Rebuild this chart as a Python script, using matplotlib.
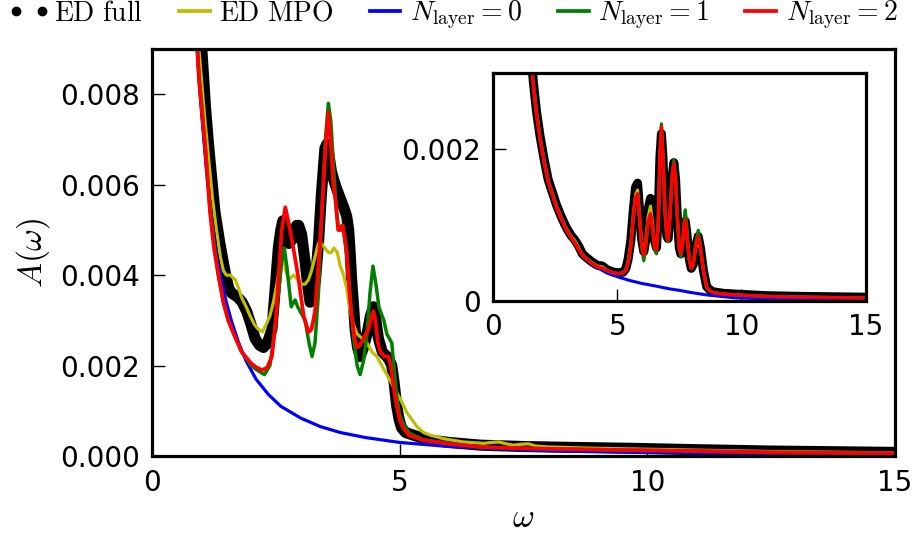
import matplotlib
matplotlib.use("Agg")
import matplotlib.pyplot as plt
from matplotlib.lines import Line2D
from matplotlib.legend_handler import HandlerLine2D
from matplotlib.ticker import FormatStrFormatter

plt.rcParams['mathtext.fontset'] = 'cm'

# ---- main panel: spectral function A(omega) ----
w_full = [1.0, 1.04, 1.08, 1.14, 1.2, 1.27, 1.37, 1.47, 1.55, 1.61, 1.68, 1.74, 1.82, 1.91, 2.0,
          2.08, 2.17, 2.25, 2.33, 2.42, 2.48, 2.55, 2.6, 2.64, 2.69, 2.76, 2.84, 2.92, 2.96, 3.02,
          3.09, 3.15, 3.19, 3.25, 3.3, 3.36, 3.42, 3.49, 3.53, 3.58, 3.62, 3.67, 3.73, 3.8, 3.87,
          3.93, 3.97, 4.0, 4.03, 4.07, 4.1, 4.15, 4.2, 4.27, 4.34, 4.41, 4.47, 4.52, 4.57, 4.65,
          4.74, 4.8, 4.84, 4.89, 4.94, 4.99, 5.04, 5.12, 5.28, 5.45, 5.62, 6.0, 6.63, 7.5, 8.5,
          9.7, 11, 12.5, 15]
A_full = [0.0091, 0.0084, 0.0077, 0.0069, 0.0062, 0.0054, 0.0047, 0.0041, 0.0037, 0.0036, 0.00355,
          0.0035, 0.0034, 0.0032, 0.0029, 0.0026, 0.00245, 0.0024, 0.0025, 0.0028, 0.0036, 0.0046,
          0.0050, 0.0052, 0.0051, 0.0047, 0.0048, 0.0051, 0.0051, 0.0049, 0.0043, 0.0037, 0.0034,
          0.0035, 0.0039, 0.0047, 0.0058, 0.0068, 0.0069, 0.0066, 0.0063, 0.0061, 0.0059, 0.0057,
          0.0055, 0.0053, 0.0050, 0.0045, 0.0039, 0.0033, 0.0028, 0.0024, 0.0022, 0.0024, 0.0027,
          0.0031, 0.0033, 0.0030, 0.0026, 0.0023, 0.0022, 0.0021, 0.0020, 0.0016, 0.0011, 0.0008,
          0.00062, 0.00052, 0.00046, 0.0004, 0.00035, 0.0003, 0.00024, 0.00021, 0.00019, 0.00017,
          0.00014, 0.00011, 0.00008]

w_mpo = [0.93, 1.0, 1.07, 1.14, 1.22, 1.3, 1.38, 1.44, 1.5, 1.58, 1.68, 1.75, 1.81, 1.9, 1.98,
         2.07, 2.15, 2.23, 2.3, 2.38, 2.45, 2.52, 2.58, 2.65, 2.7, 2.76, 2.86, 2.94, 3.02, 3.09,
         3.16, 3.22, 3.29, 3.36, 3.42, 3.49, 3.56, 3.62, 3.67, 3.74, 3.8, 3.87, 3.93, 4.0, 4.07,
         4.14, 4.24, 4.34, 4.44, 4.54, 4.64, 4.74, 4.84, 4.94, 5.04, 5.14, 5.25, 5.35, 5.48, 5.62,
         5.9, 6.29, 6.7, 6.85, 7.0, 7.15, 7.3, 7.45, 7.6, 7.75, 8.0, 9, 10, 11, 12.5, 15]
A_mpo = [0.0092, 0.0083, 0.0074, 0.0066, 0.0057, 0.0050, 0.0044, 0.0041, 0.0040, 0.0040, 0.0039,
         0.0037, 0.0035, 0.0033, 0.0031, 0.0029, 0.0028, 0.00275, 0.0029, 0.0031, 0.0034, 0.0038,
         0.0042, 0.0044, 0.0041, 0.0039, 0.0040, 0.0039, 0.0038, 0.0038, 0.0039, 0.0041, 0.0044,
         0.0047, 0.0047, 0.0046, 0.0045, 0.0045, 0.0046, 0.0045, 0.0042, 0.0040, 0.0037, 0.0032,
         0.0029, 0.0027, 0.0026, 0.0025, 0.0023, 0.0022, 0.0020, 0.0018, 0.0016, 0.0014, 0.0012,
         0.00097, 0.0008, 0.00065, 0.00052, 0.00046, 0.00038, 0.00031, 0.00028, 0.0003, 0.00031,
         0.00027, 0.00024, 0.00026, 0.00027, 0.00022, 0.0002, 0.00017, 0.00015, 0.00013, 0.0001,
         0.00007]

w_n0 = [0.88, 0.95, 1.0, 1.1, 1.2, 1.3, 1.4, 1.5, 1.6, 1.75, 1.9, 2.1, 2.35, 2.6, 3.0, 3.4, 3.8,
        4.3, 5.0, 6.0, 7.0, 8.0, 9.0, 10, 11, 12, 13, 14, 15]
A_n0 = [0.0097, 0.0083, 0.0076, 0.0063, 0.0053, 0.0045, 0.0039, 0.0034, 0.0030, 0.0025, 0.0021,
        0.0017, 0.00136, 0.0011, 0.00084, 0.00065, 0.00052, 0.00041, 0.0003, 0.00021, 0.00016,
        0.00012, 0.0001, 0.00008, 0.00007, 0.00006, 0.00005, 0.000045, 0.00004]

w_n1 = [0.9, 0.95, 1.0, 1.07, 1.17, 1.25, 1.34, 1.44, 1.54, 1.65, 1.81, 2.0, 2.12, 2.27, 2.38,
        2.48, 2.55, 2.62, 2.67, 2.72, 2.76, 2.81, 2.86, 2.89, 2.94, 2.99, 3.09, 3.17, 3.23, 3.29,
        3.36, 3.43, 3.5, 3.56, 3.61, 3.66, 3.71, 3.76, 3.8, 3.83, 3.88, 3.93, 4.0, 4.07, 4.14,
        4.2, 4.27, 4.34, 4.4, 4.46, 4.52, 4.58, 4.61, 4.68, 4.74, 4.84, 4.89, 4.94, 5.0, 5.08,
        5.2, 5.48, 6.0, 6.63, 7.5, 8.5, 9.7, 11, 12.5, 15]
A_n1 = [0.0093, 0.0084, 0.0078, 0.0069, 0.0055, 0.0047, 0.0040, 0.0034, 0.0030, 0.0027, 0.0023,
        0.0020, 0.0019, 0.0018, 0.0020, 0.0028, 0.0036, 0.0043, 0.0046, 0.0042, 0.0038, 0.0033,
        0.0034, 0.00345, 0.0033, 0.0032, 0.0030, 0.0025, 0.0022, 0.0025, 0.0036, 0.0054, 0.0070,
        0.0078, 0.0074, 0.0065, 0.0056, 0.0050, 0.0050, 0.0051, 0.0049, 0.0045, 0.0035, 0.0026,
        0.0020, 0.0018, 0.0021, 0.0027, 0.0036, 0.0042, 0.0038, 0.0033, 0.0032, 0.0030, 0.0027,
        0.0025, 0.0019, 0.0013, 0.0009, 0.0007, 0.0005, 0.00036, 0.00028, 0.0002, 0.00017,
        0.00015, 0.00013, 0.00011, 0.00008, 0.00006]

w_n2 = [0.9, 0.95, 1.0, 1.07, 1.17, 1.25, 1.34, 1.44, 1.54, 1.65, 1.81, 2.0, 2.12, 2.22, 2.32,
        2.42, 2.5, 2.55, 2.62, 2.69, 2.75, 2.82, 2.9, 2.96, 3.06, 3.16, 3.22, 3.29, 3.36, 3.43,
        3.5, 3.56, 3.61, 3.66, 3.7, 3.76, 3.81, 3.85, 3.93, 3.98, 4.03, 4.09, 4.14, 4.2, 4.27,
        4.37, 4.44, 4.47, 4.51, 4.56, 4.61, 4.69, 4.77, 4.82, 4.88, 4.94, 5.0, 5.08, 5.2, 5.48,
        6.0, 6.63, 7.5, 8.5, 9.7, 11, 12.5, 15]
A_n2 = [0.0092, 0.0083, 0.0077, 0.0069, 0.0054, 0.0046, 0.0040, 0.0034, 0.0030, 0.0027, 0.0023,
        0.00205, 0.00195, 0.0019, 0.00195, 0.0022, 0.0030, 0.0039, 0.0050, 0.0055, 0.0052,
        0.0048, 0.0043, 0.0039, 0.0031, 0.00274, 0.0028, 0.0032, 0.0042, 0.0054, 0.0068, 0.0076,
        0.0069, 0.0060, 0.0057, 0.0050, 0.0050, 0.0051, 0.0045, 0.0037, 0.0031, 0.0026, 0.0024,
        0.00245, 0.0026, 0.0028, 0.0031, 0.0032, 0.0030, 0.0025, 0.0023, 0.0022, 0.0022, 0.0020,
        0.0015, 0.0011, 0.0008, 0.0006, 0.00045, 0.00035, 0.00027, 0.0002, 0.00017, 0.00015,
        0.00013, 0.00011, 0.00008, 0.00006]

# ---- inset: second parameter set ----
iw = [1.55, 1.62, 1.75, 1.89, 2.05, 2.22, 2.4, 2.56, 2.76, 2.96, 3.15, 3.3, 3.45, 3.6, 3.77, 4.0,
      4.2, 4.4, 4.6, 4.84, 5.05, 5.24, 5.35, 5.44, 5.55, 5.65, 5.74, 5.82, 5.9, 5.98, 6.07, 6.15,
      6.24, 6.34, 6.43, 6.5, 6.58, 6.65, 6.72, 6.78, 6.84, 6.92, 7.0, 7.05, 7.12, 7.2, 7.28, 7.35,
      7.42, 7.5, 7.56, 7.63, 7.7, 7.74, 7.8, 7.9, 7.98, 8.06, 8.15, 8.26, 8.35, 8.47, 8.6, 8.75,
      8.87, 9.3, 9.8, 11, 12.5, 15]
iA_full = [0.0032, 0.0029, 0.0025, 0.00218, 0.00188, 0.0016, 0.00142, 0.00126, 0.0011, 0.00096,
           0.00086, 0.0008, 0.00072, 0.00062, 0.00057, 0.00051, 0.00047, 0.00046, 0.00041, 0.00038,
           0.00037, 0.00038, 0.00043, 0.00055, 0.0008, 0.0012, 0.0015, 0.00155, 0.0012, 0.00082,
           0.00065, 0.0008, 0.0012, 0.00135, 0.0011, 0.0008, 0.0007, 0.0011, 0.0019, 0.0022,
           0.0019, 0.0012, 0.00085, 0.00082, 0.0011, 0.0016, 0.00182, 0.0016, 0.0011, 0.0007,
           0.00062, 0.00075, 0.001, 0.00105, 0.0009, 0.00055, 0.00043, 0.00048, 0.0007, 0.00085,
           0.0007, 0.0004, 0.00019, 0.00014, 0.00012, 0.0001, 0.00009, 0.00007, 0.00006, 0.00005]
iA_mpo = [0.0032, 0.0029, 0.0025, 0.00217, 0.00187, 0.00159, 0.00141, 0.00125, 0.00109, 0.00095,
          0.00085, 0.00079, 0.0007, 0.00061, 0.00056, 0.0005, 0.00046, 0.00045, 0.0004, 0.00037,
          0.00036, 0.00037, 0.00041, 0.00052, 0.00076, 0.00115, 0.0014, 0.00146, 0.0011, 0.00078,
          0.00062, 0.0008, 0.0011, 0.00125, 0.001, 0.00075, 0.0007, 0.001, 0.0019, 0.00225, 0.0019,
          0.0012, 0.00085, 0.00082, 0.0011, 0.0016, 0.0018, 0.0016, 0.0011, 0.0007, 0.00063,
          0.00075, 0.00098, 0.001, 0.00088, 0.00055, 0.00044, 0.00048, 0.00068, 0.0008, 0.00068,
          0.0004, 0.00018, 0.00013, 0.00011, 0.00009, 0.00008, 0.00006, 0.00005, 0.00004]
iA_n1 = [0.0031, 0.00285, 0.00245, 0.00214, 0.00184, 0.00157, 0.00139, 0.00123, 0.00107, 0.00093,
         0.00083, 0.00076, 0.00068, 0.0006, 0.00055, 0.00049, 0.00045, 0.00043, 0.0004, 0.00037,
         0.00036, 0.00037, 0.0004, 0.0005, 0.00072, 0.0011, 0.00135, 0.0014, 0.00108, 0.0007,
         0.00053, 0.0007, 0.001, 0.00112, 0.0009, 0.00068, 0.00062, 0.001, 0.0019, 0.00233,
         0.0019, 0.0012, 0.00082, 0.00078, 0.0011, 0.0016, 0.00185, 0.0016, 0.0011, 0.00068,
         0.00058, 0.00075, 0.0011, 0.0012, 0.001, 0.00055, 0.00042, 0.00048, 0.00075, 0.00093,
         0.00075, 0.0004, 0.00018, 0.00013, 0.00011, 0.00009, 0.00008, 0.00006, 0.00005, 0.00004]
iA_n2 = [0.0031, 0.00285, 0.00245, 0.00214, 0.00184, 0.00157, 0.00139, 0.00123, 0.00107, 0.00093,
         0.00083, 0.00076, 0.00068, 0.0006, 0.00055, 0.00049, 0.00045, 0.00043, 0.0004, 0.00037,
         0.00036, 0.00037, 0.0004, 0.0005, 0.00072, 0.0011, 0.00137, 0.00141, 0.0011, 0.00075,
         0.0006, 0.00075, 0.00105, 0.00115, 0.00095, 0.00072, 0.00067, 0.001, 0.0019, 0.00229,
         0.0019, 0.0012, 0.00085, 0.0008, 0.0011, 0.0016, 0.00181, 0.0016, 0.0011, 0.0007,
         0.00062, 0.00075, 0.001, 0.00107, 0.0009, 0.00055, 0.00043, 0.00048, 0.0007, 0.00085,
         0.0007, 0.0004, 0.00018, 0.00013, 0.00011, 0.00009, 0.00008, 0.00006, 0.00005, 0.00004]
iw_n0 = [1.6, 1.75, 1.89, 2.05, 2.22, 2.4, 2.56, 2.76, 2.96, 3.15, 3.3, 3.45, 3.6, 3.77, 4.0, 4.3,
         4.6, 5.0, 5.5, 6.0, 6.5, 7.1, 7.5, 8.0, 8.6, 9.2, 9.8, 11, 12.5, 15]
iA_n0 = [0.0030, 0.00245, 0.00214, 0.00184, 0.00157, 0.00139, 0.00123, 0.00107, 0.00093, 0.00083,
         0.00076, 0.00068, 0.0006, 0.00055, 0.00048, 0.00042, 0.00037, 0.00032, 0.00027, 0.00023,
         0.0002, 0.00016, 0.00014, 0.00011, 0.00008, 0.00006, 0.00004, 0.00003, 0.00002, 0.00001]

labels = [r'$\mathrm{ED\ full}$', r'$\mathrm{ED\ MPO}$', r'$N_{\mathrm{layer}}=0$',
          r'$N_{\mathrm{layer}}=1$', r'$N_{\mathrm{layer}}=2$']
colors = ['k', 'y', 'b', 'g', 'r']

fig = plt.figure(figsize=(9.18, 5.37), dpi=100)
ax = fig.add_axes([0.1656, 0.1508, 0.8094, 0.758])


def draw(a, series, lw_full, lw):
    (wf, af), (wm, am), (w0, a0), (w1, a1), (w2, a2) = series
    a.plot(wf, af, color='k', lw=lw_full, solid_capstyle='round', solid_joinstyle='round')
    a.plot(wm, am, color='y', lw=lw[0])
    a.plot(w0, a0, color='b', lw=lw[1])
    a.plot(w1, a1, color='g', lw=lw[2])
    a.plot(w2, a2, color='r', lw=lw[3])
    for s in a.spines.values():
        s.set_linewidth(2.3)
    a.tick_params(direction='in', length=9, width=1, top=False, right=False,
                  labelsize=20, pad=9)


draw(ax, [(w_full, A_full), (w_mpo, A_mpo), (w_n0, A_n0), (w_n1, A_n1), (w_n2, A_n2)],
     8, [2.3, 2.3, 2.5, 2.7])
ax.set_xlim(0, 15)
ax.set_ylim(0, 0.009)
ax.set_xticks([0, 5, 10, 15])
ax.set_yticks([0, 0.002, 0.004, 0.006, 0.008])
ax.yaxis.set_major_formatter(FormatStrFormatter('%.3f'))
ax.set_xlabel(r'$\omega$', fontsize=24)
ax.set_ylabel(r'$A(\omega)$', fontsize=24)
ax.xaxis.set_label_coords(0.5, -0.11)
ax.yaxis.set_label_coords(-0.135, 0.5)

axin = fig.add_axes([0.537, 0.4395, 0.406, 0.4246])
draw(axin, [(iw, iA_full), (iw, iA_mpo), (iw_n0, iA_n0), (iw, iA_n1), (iw, iA_n2)],
     6.5, [2.2, 2.2, 2.3, 2.5])
axin.set_xlim(0, 15)
axin.set_ylim(0, 0.003)
axin.set_xticks([0, 5, 10, 15])
axin.set_yticks([0, 0.002])
axin.set_yticklabels(['0', '0.002'])

# legend: two separated dots for the ED reference, short lines for the rest
dots = Line2D([], [], color='k', marker='o', ls='none', ms=6)
handles = [dots] + [Line2D([], [], color=c, lw=2.7) for c in colors[1:]]
fig.legend(handles, labels, loc='center', bbox_to_anchor=(0.496, 0.972), ncol=5,
           frameon=False, fontsize=20, handlelength=1.1, handletextpad=0.35,
           columnspacing=1.3, borderpad=0, borderaxespad=0,
           handler_map={dots: HandlerLine2D(numpoints=2, marker_pad=0.07)})

fig.savefig('out.png', dpi=100)
